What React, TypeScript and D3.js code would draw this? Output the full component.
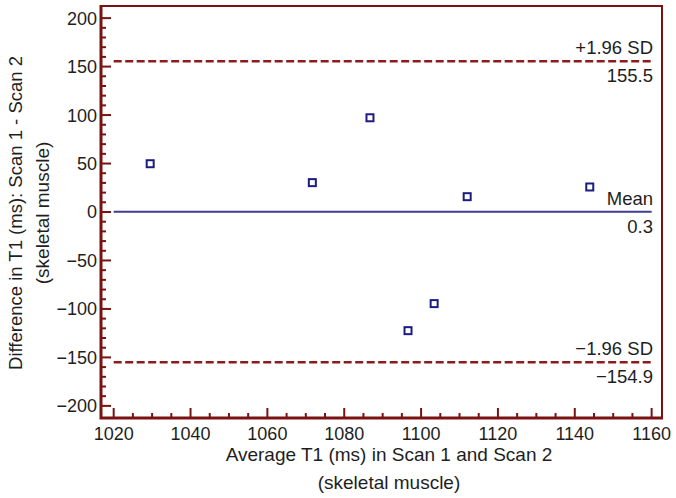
import React, { useEffect, useRef } from "react";
import * as d3 from "d3";

// Bland-Altman points: average T1 vs difference
const avgT1 = [1029.5, 1071.7, 1086.7, 1096.6, 1103.4, 1112.0, 1143.9];
const diffT1 = [49.8, 30.3, 97.2, -122.4, -94.5, 15.8, 25.8];

const meanDiff = 0.3;
const upperLoA = 155.5;
const lowerLoA = -154.9;

const xTicks = [1020, 1040, 1060, 1080, 1100, 1120, 1140, 1160];
const yTicks = [-200, -150, -100, -50, 0, 50, 100, 150, 200];

const fmt = (v: number) => (v < 0 ? "\u2212" + Math.abs(v) : String(v));

const App = () => {
  const svgRef = useRef<SVGSVGElement>(null);

  useEffect(() => {
    const width = 676;
    const height = 498;
    const left = 101, right = 662, top = 6, bottom = 418;
    const font = "'Liberation Sans', Arial, Helvetica, sans-serif";
    const axisColor = "#7a1212";
    const textColor = "#1e1e1e";

    const svg = d3.select(svgRef.current)
      .attr("width", width)
      .attr("height", height)
      .style("position", "absolute")
      .style("left", 0)
      .style("top", 0);
    svg.selectAll("*").remove();

    const x = d3.scaleLinear().domain([1016.7, 1162.7]).range([left, right]);
    const y = d3.scaleLinear().domain([-212.5, 212.5]).range([bottom, top]);

    // frame: thin top/right, thick left/bottom
    svg.append("path")
      .attr("d", `M${left},${top}H${right}V${bottom}`)
      .attr("fill", "none")
      .attr("stroke", axisColor)
      .attr("stroke-width", 2);

    // x ticks (inward, minor every 5)
    const xMinor = d3.range(1020, 1161, 5);
    svg.append("g").selectAll("line")
      .data(xMinor)
      .join("line")
      .attr("x1", d => x(d)).attr("x2", d => x(d))
      .attr("y1", bottom)
      .attr("y2", d => bottom - (d % 20 === 0 ? 10 : 5))
      .attr("stroke", axisColor)
      .attr("stroke-width", 2);

    // y ticks (inward, minor every 10)
    const yMinor = d3.range(-200, 201, 10);
    svg.append("g").selectAll("line")
      .data(yMinor)
      .join("line")
      .attr("x1", left)
      .attr("x2", d => left + (d % 50 === 0 ? 10 : 5))
      .attr("y1", d => y(d)).attr("y2", d => y(d))
      .attr("stroke", axisColor)
      .attr("stroke-width", 2);

    svg.append("path")
      .attr("d", `M${left},${top - 1}V${bottom}H${right + 1}`)
      .attr("fill", "none")
      .attr("stroke", axisColor)
      .attr("stroke-width", 3);

    // tick labels
    svg.append("g").selectAll("text")
      .data(xTicks)
      .join("text")
      .attr("x", d => x(d))
      .attr("y", 440)
      .attr("text-anchor", "middle")
      .attr("font-family", font)
      .attr("font-size", 18)
      .attr("fill", textColor)
      .text(d => String(d));

    svg.append("g").selectAll("text")
      .data(yTicks)
      .join("text")
      .attr("x", 97)
      .attr("y", d => y(d))
      .attr("dy", "0.36em")
      .attr("text-anchor", "end")
      .attr("font-family", font)
      .attr("font-size", 18)
      .attr("fill", textColor)
      .text(d => fmt(d));

    // reference lines
    const x0 = x(1020), x1 = x(1160);
    svg.append("line")
      .attr("x1", x0).attr("x2", x1)
      .attr("y1", y(meanDiff)).attr("y2", y(meanDiff))
      .attr("stroke", "#3c3c96")
      .attr("stroke-width", 2);

    [upperLoA, lowerLoA].forEach(v => {
      svg.append("line")
        .attr("x1", x0).attr("x2", x1)
        .attr("y1", y(v)).attr("y2", y(v))
        .attr("stroke", "#8c1c1c")
        .attr("stroke-width", 2.5)
        .attr("stroke-dasharray", "8,3.5");
    });

    const lineLabels = [
      { v: upperLoA, top: "+1.96 SD", bot: "155.5" },
      { v: meanDiff, top: "Mean", bot: "0.3" },
      { v: lowerLoA, top: "\u22121.96 SD", bot: "\u2212154.9" },
    ];
    lineLabels.forEach(l => {
      svg.append("text")
        .attr("x", 653).attr("y", y(l.v) - 7)
        .attr("text-anchor", "end")
        .attr("font-family", font).attr("font-size", 18.5)
        .attr("fill", textColor)
        .text(l.top);
      svg.append("text")
        .attr("x", 653).attr("y", y(l.v) + 21)
        .attr("text-anchor", "end")
        .attr("font-family", font).attr("font-size", 18.5)
        .attr("fill", textColor)
        .text(l.bot);
    });

    // points
    svg.append("g").selectAll("rect")
      .data(avgT1)
      .join("rect")
      .attr("x", (d: number) => x(d) - 3.5)
      .attr("y", (_d: number, i: number) => y(diffT1[i]) - 3.5)
      .attr("width", 7)
      .attr("height", 7)
      .attr("fill", "white")
      .attr("stroke", "#1c1c82")
      .attr("stroke-width", 2);

    // axis titles
    svg.append("text")
      .attr("x", 389).attr("y", 461)
      .attr("text-anchor", "middle")
      .attr("font-family", font).attr("font-size", 19)
      .attr("fill", textColor)
      .text("Average T1 (ms) in Scan 1 and Scan 2");
    svg.append("text")
      .attr("x", 389).attr("y", 489)
      .attr("text-anchor", "middle")
      .attr("font-family", font).attr("font-size", 19)
      .attr("fill", textColor)
      .text("(skeletal muscle)");

    svg.append("text")
      .attr("transform", "translate(22,213) rotate(-90)")
      .attr("text-anchor", "middle")
      .attr("font-family", font).attr("font-size", 18.5)
      .attr("fill", textColor)
      .text("Difference in T1 (ms): Scan 1 - Scan 2");
    svg.append("text")
      .attr("transform", "translate(49,213) rotate(-90)")
      .attr("text-anchor", "middle")
      .attr("font-family", font).attr("font-size", 19)
      .attr("fill", textColor)
      .text("(skeletal muscle)");
  }, []);

  return <svg ref={svgRef} />;
};

export default App;
